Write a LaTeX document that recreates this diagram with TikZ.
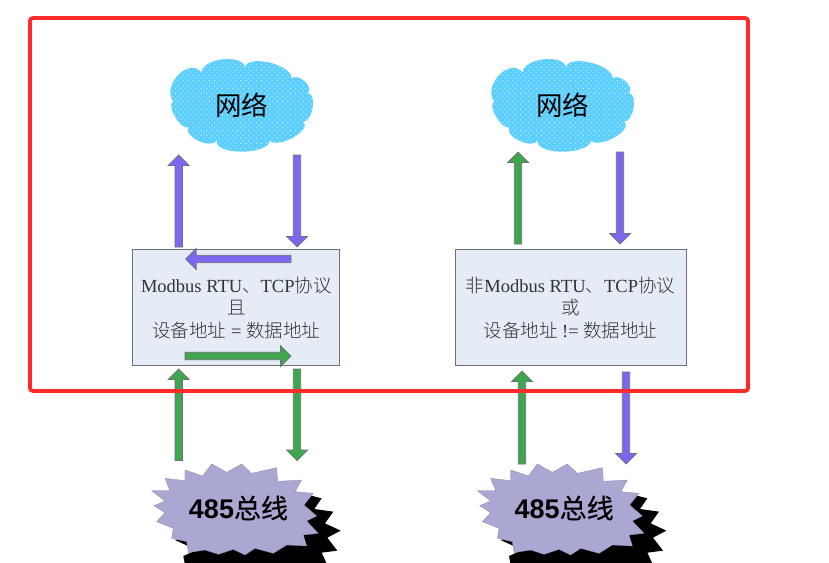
\documentclass[tikz,border=0pt]{standalone}
\usepackage{fontspec}
\setmainfont{Liberation Serif}
\newfontfamily\cjk{Noto Sans CJK SC}
\newfontfamily\cjklight{Noto Sans CJK SC Light}
\newfontfamily\cjkbus[FakeBold=0.5]{Noto Sans CJK SC}
\newfontfamily\headsans{Liberation Sans}
\usetikzlibrary{calc,patterns.meta}
\definecolor{arrowpurple}{HTML}{7B68EE}
\definecolor{arrowgreen}{HTML}{3FA650}
\definecolor{boxfill}{HTML}{E6ECF6}
\definecolor{burstfill}{HTML}{AAA8D2}
\definecolor{cloudfill}{HTML}{5CCFFF}
\definecolor{edgegray}{HTML}{6E6E78}
\definecolor{framered}{HTML}{FF2A2A}
\tikzset{
  infobox/.style={draw=edgegray,line width=1pt,fill=boxfill,text=black!80,minimum width=207pt,minimum height=115.5pt,inner sep=0pt,align=center,font=\fontsize{18.5}{22.5}\selectfont},
  cloudbody/.style={preaction={fill=cloudfill},pattern={Dots[distance=3.7pt,radius=0.65pt,angle=45]},pattern color=white!70!cloudfill},
  netname/.style={inner sep=0pt,font=\cjk\fontsize{26.5}{26.5}\selectfont},
  busname/.style={inner sep=0pt,font=\fontsize{27}{27}\selectfont},
  arrowedge/.style={draw=edgegray,line width=0.7pt,line join=miter},
  burstshape/.style={fill=burstfill,draw=burstfill!80!black,line width=0.3pt},
  frame/.style={draw=framered,line width=3.8pt,rounded corners=3pt}
}
% block arrow from #1 to #2, filled with #3
\newcommand{\blockarrow}[3]{%
  \draw[arrowedge,fill=#3]
    ($(#1)!3.7pt!90:(#2)$) --
    ($($(#2)!10.5pt!(#1)$)!3.7pt!90:(#2)$) --
    ($($(#2)!10.5pt!(#1)$)!10.5pt!90:(#2)$) --
    (#2) --
    ($($(#2)!10.5pt!(#1)$)!10.5pt!-90:(#2)$) --
    ($($(#2)!10.5pt!(#1)$)!3.7pt!-90:(#2)$) --
    ($(#1)!3.7pt!-90:(#2)$) -- cycle;}
\newcommand{\burstoutline}{%
  (165,90) -- (218,108) -- (245,72) -- (290,97) -- (335,72) -- (365,100) -- (440,83) -- (443,124) -- (515,120) -- (495,155) -- (550,160) -- (522,195) -- (560,228) -- (530,243) -- (565,280) -- (520,285) -- (530,318) -- (470,315) -- (430,340) -- (375,325) -- (345,345) -- (310,328) -- (265,343) -- (225,330) -- (175,338) -- (170,305) -- (125,295) -- (130,265) -- (80,245) -- (105,218) -- (72,197) -- (105,183) -- (65,152) -- (120,152) -- (105,115) -- (165,122) -- cycle}
\newcommand{\shadowoutline}{%
  (497,155) -- (575,175) -- (553,207) -- (610,215) -- (585,250) -- (632,272) -- (592,293) -- (622,332) -- (575,338) -- (592,375) -- (165,375) -- (160,348) -- (200,330) -- (135,300) -- (300,250) -- cycle}
\newcommand{\cloudoutline}{%
  (40,155) .. controls (3,106) and (88,19) .. (125,68) .. controls (125,23) and (255,10) .. (255,55) .. controls (255,11) and (395,41) .. (395,85) .. controls (416,68) and (464,113) .. (443,130) .. controls (472,129) and (459,214) .. (430,215) .. controls (457,240) and (357,297) .. (330,272) .. controls (323,316) and (163,316) .. (170,272) .. controls (153,299) and (68,259) .. (85,232) .. controls (62,241) and (17,164) .. (40,155) -- cycle}
\begin{document}
\begin{tikzpicture}[x=1pt,y=-1pt]
\path[use as bounding box] (0,0) rectangle (829,562);
\clip (0,0) rectangle (829,562);
\fill[white] (0,0) rectangle (829,562);
% bursts with shadows
\begin{scope}[shift={(130,440)},x=0.3333pt,y=-0.3333pt]
  \fill[black] \shadowoutline;
  \path[burstshape] \burstoutline;
\end{scope}
\begin{scope}[shift={(455.7,440)},x=0.3333pt,y=-0.3333pt]
  \fill[black] \shadowoutline;
  \path[burstshape] \burstoutline;
\end{scope}
\node[busname] (busA) at (238.5,508) {{\headsans\bfseries 485}{\cjkbus 总线}};
\node[busname] (busB) at (564.2,508) {{\headsans\bfseries 485}{\cjkbus 总线}};
% clouds
\begin{scope}[shift={(160,50)},x=0.3333pt,y=-0.3333pt]
  \path[cloudbody] \cloudoutline;
\end{scope}
\begin{scope}[shift={(481,50)},x=0.3333pt,y=-0.3333pt]
  \path[cloudbody] \cloudoutline;
\end{scope}
\node[netname] (netA) at (241.7,105.5) {网络};
\node[netname] (netB) at (562.7,105.5) {网络};
% boxes
\node[infobox] (boxA) at (236.3,307.7) {Modbus RTU{\cjklight 、}TCP{\cjklight 协议}\\{\cjklight 且}\\{\cjklight 设备地址} = {\cjklight 数据地址}};
\node[infobox,minimum width=231pt] (boxB) at (570.5,307.7) {{\cjklight 非}Modbus RTU{\cjklight 、}TCP{\cjklight 协议}\\{\cjklight 或}\\{\cjklight 设备地址} != {\cjklight 数据地址}};
% connector ends
\coordinate (a1s) at (178.7,247);  \coordinate (a1e) at (178.7,155);
\coordinate (a2s) at (297,155);    \coordinate (a2e) at (297,247);
\coordinate (a3s) at (291,259);    \coordinate (a3e) at (185.7,259);
\coordinate (a4s) at (185,356);    \coordinate (a4e) at (291,356);
\coordinate (a5s) at (178.7,460.5);\coordinate (a5e) at (178.7,369);
\coordinate (a6s) at (297,369);    \coordinate (a6e) at (297,460.5);
\coordinate (b1s) at (518,244);    \coordinate (b1e) at (518,152);
\coordinate (b2s) at (620,152);    \coordinate (b2e) at (620,244);
\coordinate (b3s) at (522,464);    \coordinate (b3e) at (522,371);
\coordinate (b4s) at (626,372);    \coordinate (b4e) at (626,464);
\blockarrow{a1s}{a1e}{arrowpurple}
\blockarrow{a2s}{a2e}{arrowpurple}
\blockarrow{a3s}{a3e}{arrowpurple}
\blockarrow{a4s}{a4e}{arrowgreen}
\blockarrow{a5s}{a5e}{arrowgreen}
\blockarrow{a6s}{a6e}{arrowgreen}
\blockarrow{b1s}{b1e}{arrowgreen}
\blockarrow{b2s}{b2e}{arrowpurple}
\blockarrow{b3s}{b3e}{arrowgreen}
\blockarrow{b4s}{b4e}{arrowpurple}
% red frame
\draw[frame] (30,18) rectangle (748,391);
\end{tikzpicture}
\end{document}
